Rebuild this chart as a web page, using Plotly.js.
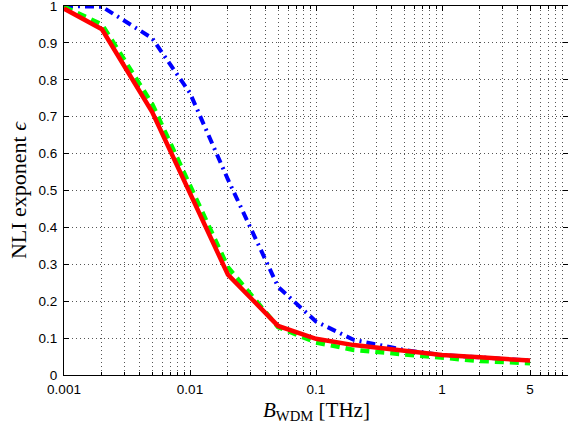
<!DOCTYPE html>
<html>
<head>
<meta charset="utf-8">
<script src="https://cdn.plot.ly/plotly-3.0.1.min.js"></script>
<style>html,body{margin:0;padding:0;background:#fff;}#plot{width:568px;height:424px;}</style>
</head>
<body>
<div id="plot"></div>
<script>
// Data
const bwdm = [0.001, 0.002, 0.005, 0.01, 0.02, 0.05, 0.1, 0.2, 0.5, 1, 2, 5];
const epsRed   = [0.993, 0.937, 0.713, 0.49, 0.272, 0.133, 0.098, 0.081, 0.066, 0.054, 0.048, 0.039];
const epsGreen = [0.998, 0.950, 0.735, 0.512, 0.292, 0.130, 0.088, 0.068, 0.055, 0.045, 0.038, 0.032];
const epsBlue  = [1.000, 0.998, 0.913, 0.764, 0.530, 0.239, 0.145, 0.095, 0.068, 0.054, 0.048, 0.039];

const xTickVals = [0.001, 0.01, 0.1, 1, 5];
const xTickText = ['0.001', '0.01', '0.1', '1', '5'];
const yTickVals = [0, 0.1, 0.2, 0.3, 0.4, 0.5, 0.6, 0.7, 0.8, 0.9, 1];
const yTickText = ['0', '0.1', '0.2', '0.3', '0.4', '0.5', '0.6', '0.7', '0.8', '0.9', '1'];
const decades = [0.001, 0.01, 0.1, 1];
const minorMults = [1, 2, 3, 4, 5, 6, 7, 8, 9];

const minorVals = [];
decades.forEach(d => minorMults.forEach(m => minorVals.push(d * m)));

const traces = [
  {x: bwdm, y: epsBlue, mode: 'lines', line: {color: '#0000ff', width: 4, dash: '9px,5px,2px,5px'}},
  {x: bwdm, y: epsGreen, mode: 'lines', line: {color: '#00ff00', width: 4.5, dash: '9px,6px'}},
  {x: bwdm, y: epsRed, mode: 'lines', line: {color: '#ff0000', width: 4.5}}
];

const gridStyle = {gridcolor: '#555', gridwidth: 1, griddash: '1px,3px'};
const serif = 'Liberation Serif, Times New Roman, serif';

const layout = {
  width: 568, height: 424,
  margin: {l: 64, r: 0, t: 6, b: 49},
  paper_bgcolor: '#fff', plot_bgcolor: '#fff',
  showlegend: false,
  font: {family: 'Liberation Sans, Arial, sans-serif', size: 13, color: '#000'},
  xaxis: Object.assign({
    type: 'log', range: [-3, 1],
    tickmode: 'array', tickvals: xTickVals, ticktext: xTickText,
    ticks: 'inside', ticklen: 5, tickcolor: '#000',
    showline: true, linecolor: '#000', linewidth: 1, mirror: 'allticks',
    showgrid: true, zeroline: false,
    tickfont: {size: 13.5}, ticklabeloverflow: 'allow', ticklabelstandoff: 2,
    minor: Object.assign({tickmode: 'array', tickvals: minorVals, ticks: 'inside', ticklen: 3, tickcolor: '#000', showgrid: true}, gridStyle)
  }, gridStyle),
  yaxis: Object.assign({
    range: [0, 1],
    tickmode: 'array', tickvals: yTickVals, ticktext: yTickText,
    ticks: 'inside', ticklen: 5, tickcolor: '#000',
    showline: true, linecolor: '#000', linewidth: 1, mirror: 'allticks',
    showgrid: true, zeroline: false,
    tickfont: {size: 13.5}, ticklabeloverflow: 'allow', ticklabelstandoff: 3,
    title: {text: 'NLI exponent <i>ϵ</i>', font: {family: serif, size: 22}, standoff: 5}
  }, gridStyle),
  annotations: [{
    text: '<i>B</i><sub>WDM</sub> [THz]', xref: 'paper', yref: 'paper', x: 0.5, y: 0,
    xanchor: 'center', yanchor: 'top', yshift: -21, showarrow: false,
    font: {family: serif, size: 21, color: '#000'}
  }]
};

Plotly.newPlot('plot', traces, layout, {displayModeBar: false, staticPlot: true});
</script>
</body>
</html>
